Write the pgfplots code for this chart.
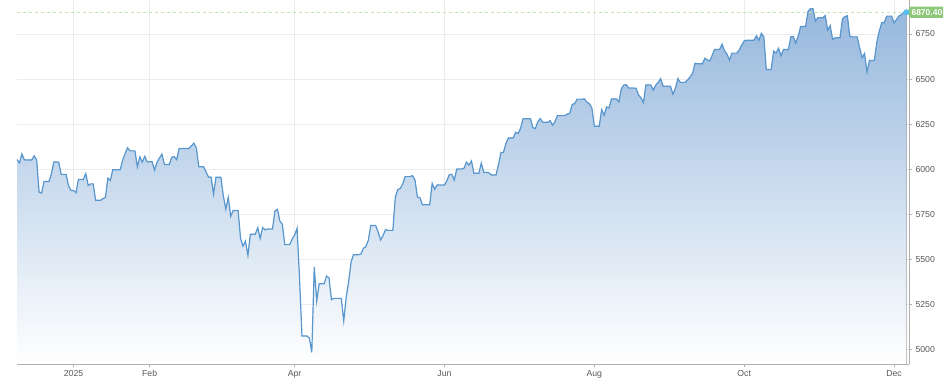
\documentclass[border=0pt]{standalone}
\usepackage{fontspec}
\setmainfont{Liberation Sans}
\usepackage{pgfplots}
\pgfplotsset{compat=1.18}
\usepackage{pgfplotstable}
\usepgfplotslibrary{fillbetween}
\usetikzlibrary{shapes.symbols}
\definecolor{linec}{RGB}{88,150,206}
\definecolor{filltop}{RGB}{150,184,221}
\definecolor{gridc}{RGB}{236,236,236}
\definecolor{axc}{RGB}{175,175,175}
\definecolor{lblgreen}{RGB}{141,199,120}
\definecolor{dashgreen}{RGB}{196,228,180}
\definecolor{dotblue}{RGB}{90,190,240}
\pgfplotstableread{
d v
-23 6052.85
-22 6034.91
-21 6084.19
-20 6051.25
-19 6051.09
-17 6051.09
-16 6074.08
-15 6050.61
-14 5872.16
-13 5867.08
-12 5930.85
-10 5930.85
-9 5974.07
-8 6040.04
-7 6040.04
-6 6037.59
-5 5970.84
-3 5970.84
-2 5906.94
-1 5881.63
0 5881.63
1 5868.55
2 5942.47
4 5942.47
5 5975.38
6 5909.03
7 5918.25
8 5918.25
9 5827.04
11 5827.04
12 5836.22
13 5842.91
14 5949.91
15 5937.34
16 5996.66
18 5996.66
19 5996.66
20 6049.24
21 6086.37
22 6118.71
23 6101.24
25 6101.24
26 6012.28
27 6067.70
28 6039.31
29 6071.17
30 6040.53
32 6040.53
33 5994.57
34 6037.88
35 6061.48
36 6083.57
37 6025.99
39 6025.99
40 6066.44
41 6068.50
42 6051.97
43 6115.07
44 6114.63
46 6114.63
47 6114.63
48 6129.58
49 6144.15
50 6117.52
51 6013.13
53 6013.13
54 5983.25
55 5955.25
56 5956.06
57 5861.57
58 5954.50
60 5954.50
61 5849.72
62 5778.15
63 5842.63
64 5738.52
65 5770.20
67 5770.20
68 5614.56
69 5572.07
70 5599.30
71 5521.52
72 5638.94
74 5638.94
75 5675.12
76 5614.66
77 5675.29
78 5662.89
79 5667.56
81 5667.56
82 5767.57
83 5776.65
84 5712.20
85 5693.31
86 5580.94
88 5580.94
89 5611.85
90 5633.07
91 5670.97
92 5396.52
93 5074.08
95 5074.08
96 5062.25
97 4982.77
98 5456.90
99 5268.05
100 5363.36
102 5363.36
103 5405.97
104 5396.63
105 5275.70
106 5282.70
107 5282.70
109 5282.70
110 5158.20
111 5287.76
112 5375.86
113 5484.77
114 5525.21
116 5525.21
117 5528.75
118 5560.83
119 5569.06
120 5604.14
121 5686.67
123 5686.67
124 5650.38
125 5606.91
126 5631.28
127 5663.94
128 5659.91
130 5659.91
131 5844.19
132 5886.55
133 5892.58
134 5916.93
135 5958.38
137 5958.38
138 5963.60
139 5940.46
140 5844.61
141 5842.01
142 5802.82
144 5802.82
145 5802.82
146 5921.54
147 5888.55
148 5912.17
149 5911.69
151 5911.69
152 5935.94
153 5970.37
154 5970.81
155 5939.30
156 6000.36
158 6000.36
159 6005.88
160 6038.81
161 6022.24
162 6045.26
163 5976.97
165 5976.97
166 6033.11
167 5982.72
168 5980.87
169 5980.87
170 5967.84
172 5967.84
173 6025.17
174 6092.18
175 6092.16
176 6141.02
177 6173.07
179 6173.07
180 6204.95
181 6198.01
182 6227.42
183 6279.35
184 6279.35
186 6279.35
187 6229.98
188 6225.52
189 6263.26
190 6280.46
191 6259.75
193 6259.75
194 6268.56
195 6243.76
196 6263.70
197 6297.36
198 6296.79
200 6296.79
201 6305.60
202 6309.62
203 6358.91
204 6363.35
205 6388.64
207 6388.64
208 6389.77
209 6370.86
210 6362.90
211 6339.39
212 6238.01
214 6238.01
215 6329.94
216 6299.19
217 6345.06
218 6340.00
219 6389.45
221 6389.45
222 6373.45
223 6445.76
224 6466.58
225 6468.54
226 6449.80
228 6449.80
229 6449.15
230 6411.37
231 6395.78
232 6370.17
233 6466.91
235 6466.91
236 6439.32
237 6465.94
238 6481.40
239 6501.86
240 6460.26
242 6460.26
243 6460.26
244 6415.54
245 6448.26
246 6502.08
247 6481.50
249 6481.50
250 6495.15
251 6512.61
252 6532.04
253 6587.47
254 6584.29
256 6584.29
257 6615.28
258 6606.76
259 6600.35
260 6631.96
261 6664.36
263 6664.36
264 6693.75
265 6656.92
266 6637.97
267 6604.72
268 6643.70
270 6643.70
271 6661.21
272 6688.46
273 6711.20
274 6715.35
275 6715.79
277 6715.79
278 6740.28
279 6714.59
280 6753.72
281 6735.11
282 6552.51
284 6552.51
285 6654.72
286 6644.31
287 6671.06
288 6629.07
289 6664.01
291 6664.01
292 6735.13
293 6735.35
294 6699.40
295 6738.44
296 6791.69
298 6791.69
299 6875.16
300 6890.89
301 6890.59
302 6822.34
303 6840.20
305 6840.20
306 6851.97
307 6771.55
308 6796.29
309 6720.32
310 6728.80
312 6728.80
313 6832.43
314 6846.61
315 6850.92
316 6737.49
317 6734.11
319 6734.11
320 6672.41
321 6617.32
322 6642.16
323 6538.76
324 6602.99
326 6602.99
327 6705.12
328 6765.88
329 6812.61
330 6812.61
331 6849.09
333 6849.09
334 6812.63
335 6829.37
336 6849.72
337 6857.12
338 6870.40
339 6870.40
}\spx
\begin{document}
\begin{tikzpicture}
\begin{axis}[
  at={(17bp,22bp)}, anchor=south west,
  scale only axis, width=892bp, height=364bp,
  xmin=-23, xmax=340.1, ymin=4918.4, ymax=6938.7,
  axis x line*=bottom, axis y line*=right,
  axis line style={draw=axc, line width=0.8bp},
  xtick={31,90,151,212,273,334},
  xticklabels={Feb,Apr,Jun,Aug,Oct,Dec},
  extra x ticks={0}, extra x tick labels={2025},
  extra x tick style={grid style={draw=black!14, line width=0.8bp}},
  ytick={5000,5250,5500,5750,6000,6250,6500,6750},
  grid=major, major grid style={draw=gridc, line width=0.8bp},
  tick align=outside, major tick length=3bp,
  tick style={draw=axc, line width=0.8bp},
  ticklabel style={font=\fontsize{8.7bp}{10bp}\selectfont, text=black!65},
  /pgf/number format/1000 sep={},
  /pgf/number format/assume math mode=true,
  clip=false,
]
\addplot[draw=none, name path=spx, forget plot] table[x=d,y=v]{\spx};
\path[name path=base] (axis cs:-23,4918.4) -- (axis cs:339,4918.4);
\addplot[top color=filltop, bottom color=white, draw=none] fill between[of=spx and base];
\addplot[linec, line width=1.2bp] table[x=d,y=v]{\spx};
\draw[dashgreen, dash pattern=on 3bp off 3bp, line width=0.9bp] (axis cs:-23,6870.4) -- (axis cs:339,6870.4);
\node[signal, signal to=west, signal pointer angle=110, fill=lblgreen, text=white,
  inner xsep=0.8bp, inner ysep=2.6bp, anchor=west,
  font=\fontsize{8.5bp}{10bp}\selectfont\bfseries] at (axis cs:339.1,6870.4) {6870.40};
\addplot[only marks, mark=*, mark size=2.8bp, mark options={fill=dotblue, draw=dotblue}] coordinates {(339,6870.4)};
\end{axis}
\pgfresetboundingbox
\useasboundingbox (0,0) rectangle (945bp,386bp);
\end{tikzpicture}
\end{document}
